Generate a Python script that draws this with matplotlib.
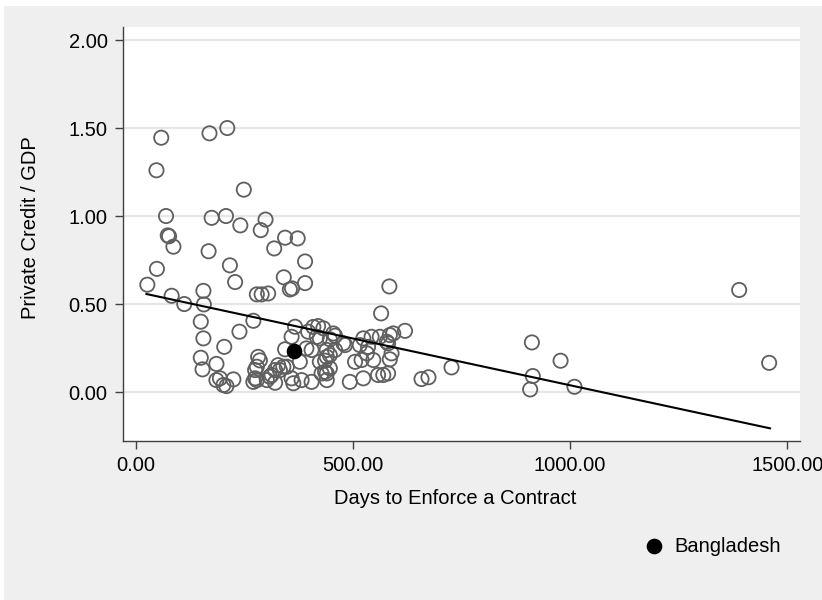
import matplotlib
matplotlib.use("Agg")
import matplotlib.pyplot as plt
from matplotlib.patches import Rectangle
from matplotlib.ticker import FormatStrFormatter

# days to enforce a contract vs private credit / GDP
days = [27, 49, 48, 59, 70, 74, 77, 87, 83, 112, 170, 211, 249, 175, 208, 241, 299, 288,
        168, 344, 373, 319, 390, 217, 229, 341, 355, 360, 390, 156, 279, 290, 305, 157,
        150, 271, 239, 156, 204, 150, 186, 154, 186, 202, 209, 225, 565, 620, 367, 359,
        344, 409, 420, 432, 397, 455, 417, 424, 524, 543, 562, 585, 593, 578, 581, 516,
        535, 478, 393, 405, 440, 459, 440, 447, 424, 436, 505, 520, 585, 532, 378, 328,
        340, 348, 282, 286, 279, 275, 321, 332, 313, 309, 275, 279, 271, 302, 321, 359,
        382, 363, 405, 440, 440, 428, 436, 447, 493, 524, 558, 570, 581, 589, 584, 912,
        978, 914, 908, 1010, 727, 658, 674, 1389, 1458, 482, 547, 447, 459, 194]
credit = [0.61, 0.70, 1.26, 1.445, 1.00, 0.89, 0.885, 0.826, 0.547, 0.50, 1.47, 1.50, 1.15,
          0.99, 1.00, 0.947, 0.98, 0.92, 0.80, 0.877, 0.873, 0.816, 0.742, 0.72, 0.625,
          0.652, 0.583, 0.589, 0.619, 0.575, 0.555, 0.555, 0.56, 0.498, 0.40, 0.405, 0.343,
          0.305, 0.257, 0.195, 0.16, 0.129, 0.068, 0.04, 0.034, 0.072, 0.447, 0.348, 0.371,
          0.314, 0.243, 0.37, 0.375, 0.362, 0.343, 0.333, 0.314, 0.305, 0.305, 0.314, 0.314,
          0.324, 0.333, 0.286, 0.277, 0.267, 0.257, 0.277, 0.248, 0.239, 0.239, 0.239, 0.20,
          0.21, 0.172, 0.178, 0.172, 0.182, 0.186, 0.22, 0.172, 0.153, 0.144, 0.144, 0.20,
          0.18, 0.144, 0.125, 0.125, 0.125, 0.097, 0.087, 0.078, 0.068, 0.058, 0.068, 0.053,
          0.078, 0.068, 0.05, 0.058, 0.068, 0.106, 0.106, 0.115, 0.135, 0.058, 0.078, 0.097,
          0.097, 0.106, 0.22, 0.60, 0.282, 0.178, 0.091, 0.015, 0.03, 0.14, 0.074, 0.084,
          0.58, 0.166, 0.267, 0.182, 0.30, 0.32, 0.078]

bgd_days = [364]
bgd_credit = [0.235]

# fitted line endpoints
fit_days = [25, 1460]
fit_credit = [0.557, -0.206]

xticks = [0, 500, 1000, 1500]
yticks = [0, 0.5, 1.0, 1.5, 2.0]

plt.rcParams['font.family'] = ['Liberation Sans', 'DejaVu Sans']
fs = 14.5

fig = plt.figure(figsize=(8.22, 6), dpi=100, facecolor='white')
fig.patches.append(Rectangle((4/822, 0), 1, 594/600, transform=fig.transFigure,
                             facecolor='#efefef', edgecolor='none', zorder=-10))

ax = fig.add_axes([123/822, 1 - 441/600, 677/822, 414/600])
ax.set_facecolor('white')

ax.scatter(days, credit, s=105, facecolors='none', edgecolors='#5f5f5f', linewidths=1.3, zorder=3)
ax.scatter(bgd_days, bgd_credit, s=105, color='black', zorder=4, label='Bangladesh')
ax.plot(fit_days, fit_credit, color='black', lw=1.5, zorder=5)

ax.set_xlim(-29, 1529)
ax.set_ylim(-0.278, 2.074)
ax.set_xticks(xticks)
ax.set_yticks(yticks)
ax.xaxis.set_major_formatter(FormatStrFormatter('%.2f'))
ax.yaxis.set_major_formatter(FormatStrFormatter('%.2f'))
ax.tick_params(labelsize=fs, length=6, width=1, color='#404040', pad=5)
ax.grid(axis='y', color='#e6e6e6', lw=1.6, zorder=0)
ax.set_axisbelow(True)

for s in ['top', 'right']:
    ax.spines[s].set_visible(False)
for s in ['left', 'bottom']:
    ax.spines[s].set_color('#404040')
    ax.spines[s].set_linewidth(1)

ax.set_xlabel('Days to Enforce a Contract', fontsize=fs)
ax.set_ylabel('Private Credit / GDP', fontsize=fs)
ax.xaxis.set_label_coords(0.49, -0.115)
ax.yaxis.set_label_coords(-0.123, 0.515)

fig.legend(loc='center left', bbox_to_anchor=(644/822, 1 - 546/600), frameon=False,
           fontsize=fs, handlelength=1, handletextpad=0.5, borderpad=0, borderaxespad=0,
           scatterpoints=1)

fig.savefig('out.png', dpi=100, facecolor=fig.get_facecolor())
